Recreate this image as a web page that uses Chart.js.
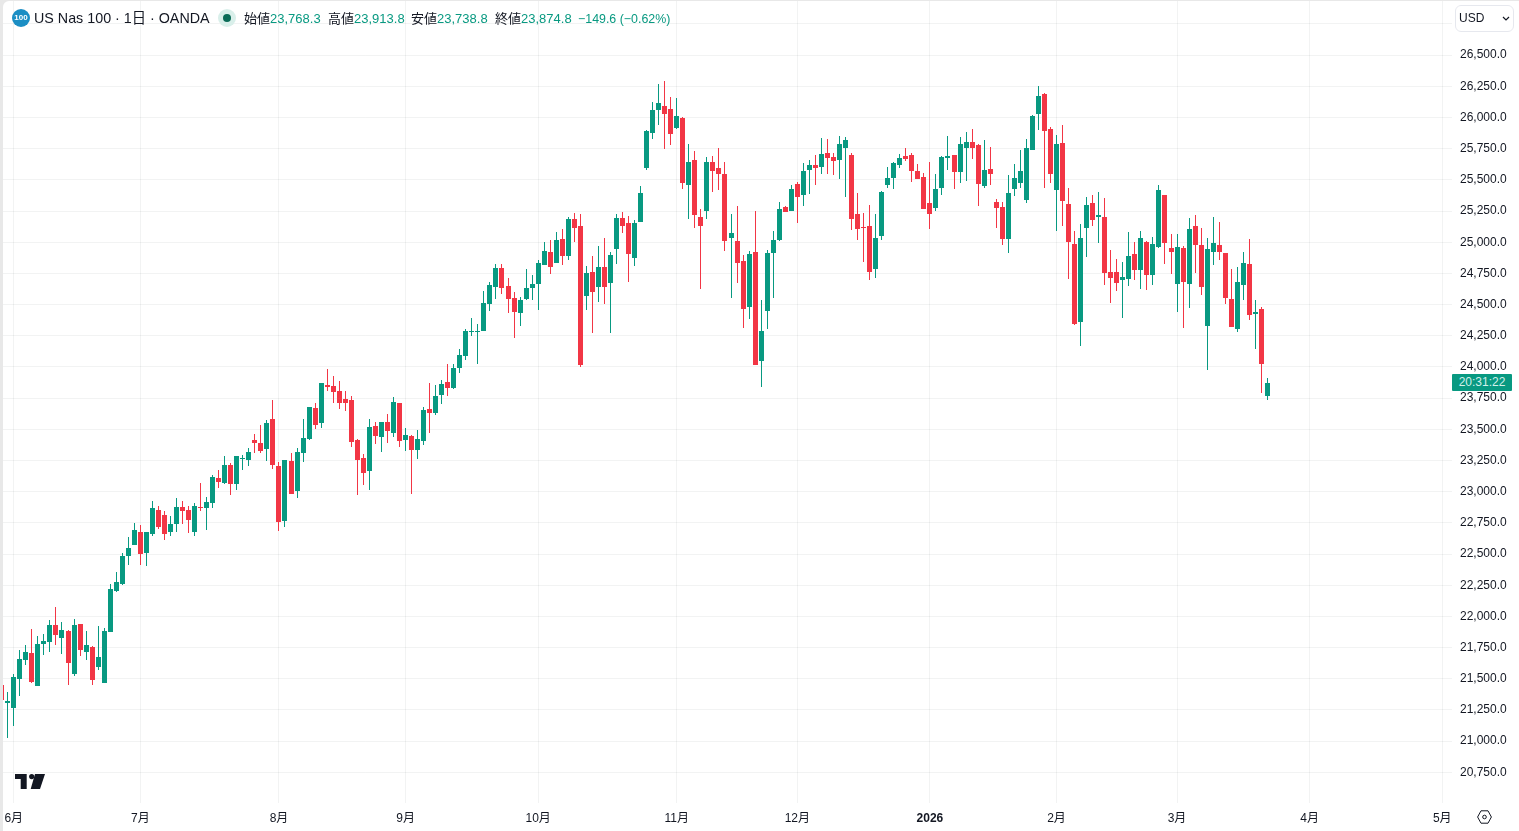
<!DOCTYPE html>
<html lang="ja"><head><meta charset="utf-8"><title>US Nas 100</title>
<script src="https://cdn.jsdelivr.net/npm/chart.js@4"></script>
<style>
html,body{margin:0;padding:0;width:1519px;height:831px;overflow:hidden;background:#e8e8e8;font-family:"Liberation Sans","Noto Sans CJK JP",sans-serif;color:#131722}
#panel{position:absolute;left:3px;top:1px;width:1516px;height:830px;background:#fff;border-top-left-radius:6px}
#c{position:absolute;left:0;top:0}
.t{position:absolute;white-space:nowrap;font-size:13px;line-height:16px}
.g{color:#089981}
#ticon{position:absolute;left:12px;top:9px;width:18px;height:18px;border-radius:50%;background:#1b8ec4;color:#fff;font-size:8px;font-weight:bold;line-height:18px;text-align:center}
#halo{position:absolute;left:218px;top:9px;width:18px;height:18px;border-radius:50%;background:#d9efea}
#dot{position:absolute;left:223px;top:14px;width:8px;height:8px;border-radius:50%;background:#0a6b57}
#tag{position:absolute;left:1452px;top:374px;width:60px;height:17px;background:#089981;color:#d3f0ea;font-size:12px;line-height:17px;text-align:center;border-radius:1px}
#usd{position:absolute;left:1455px;top:5px;width:57px;height:25px;border:1px solid #e6e8ee;border-radius:6px;background:#fff;font-size:12px;line-height:24px;box-sizing:content-box}
#usd span{position:absolute;left:3px}
svg{position:absolute;overflow:visible}
</style></head><body>
<div id="panel"></div>
<canvas id="c" width="1519" height="831"></canvas>
<div id="ticon">100</div>
<div class="t" style="left:34px;top:10px;font-size:14.3px">US Nas 100 · 1日 · OANDA</div>
<div id="halo"></div><div id="dot"></div>
<div class="t" style="left:244px;top:11px">始値<span class="g">23,768.3</span></div>
<div class="t" style="left:328px;top:11px">高値<span class="g">23,913.8</span></div>
<div class="t" style="left:411px;top:11px">安値<span class="g">23,738.8</span></div>
<div class="t" style="left:495px;top:11px">終値<span class="g">23,874.8</span></div>
<div class="t g" style="left:578px;top:11px;font-size:12.4px">−149.6 (−0.62%)</div>
<div id="usd"><span>USD</span><svg style="left:46px;top:10px" width="8" height="5" viewBox="0 0 8 5"><path d="M1 1l3 3 3-3" fill="none" stroke="#131722" stroke-width="1.2"/></svg></div>
<div id="tag">20:31:22</div>
<svg style="left:15px;top:774px" width="30" height="15" viewBox="0 0 30 15"><path d="M0 0h11.7v15H5.7V5H0z" fill="#131722"/><circle cx="16.7" cy="2.6" r="2.6" fill="#131722"/><path d="M20 0h10l-5 15H15.7z" fill="#131722"/></svg>
<svg style="left:1477px;top:810px" width="15" height="14" viewBox="0 0 15 14"><path d="M4 .8h7l3.4 6.2L11 13.2H4L.6 7z" fill="none" stroke="#131722" stroke-width="1"/><circle cx="7.5" cy="7" r="1.8" fill="none" stroke="#131722" stroke-width="1"/></svg>
<script>
const monthTicks = [1,22,45,66,88,111,131,153,174,194,216,238];
const monthLabels = ["6月","7月","8月","9月","10月","11月","12月","2026","2月","3月","4月","5月"];
const opens = [
21450,21306,21266,21498,21651,21707,21442,21779,21795,21931,
21827,21883,21538,21939,21715,21755,21595,21466,21875,22204,
22260,22485,22573,22677,22509,22661,22853,22813,22677,22741,
22878,22853,22677,22878,22870,22909,23110,23070,23214,23062,
23262,23254,23414,23390,23342,23583,23206,22765,23246,23006,
23310,23423,23671,23551,23856,23848,23807,23743,23735,23415,
23270,23166,23527,23439,23559,23471,23711,23415,23447,23334,
23406,23663,23631,23775,23880,23832,23992,24088,24281,24281,
24289,24505,24641,24794,24649,24553,24433,24545,24633,24665,
24818,24922,24834,25026,24890,25187,25131,24569,24762,24641,
24802,24673,24946,25195,25155,24874,25162,25595,25876,26060,
26092,26068,25916,25996,25459,25659,25202,25251,25643,25595,
25547,25034,25010,24850,24481,24922,24048,24449,24914,25018,
25283,25251,25467,25379,25579,25619,25603,25716,25684,25660,
25756,25700,25227,25122,25130,24785,25050,25459,25515,25619,
25692,25700,25571,25523,25315,25275,25435,25676,25700,25563,
25756,25804,25780,25451,25587,25323,25283,25026,25427,25475,
25339,25740,26028,26189,25908,25419,25795,25306,24986,24360,
25114,25314,25202,25202,24761,24761,24697,24705,24905,24777,
25002,24737,24962,25378,24953,24665,24953,24665,25130,24978,
24328,24921,24978,24913,24545,24304,24657,24825,24424,24464,23768.3];
const highs = [
21470,21394,21539,21731,21771,21899,21843,21859,21971,22076,
21955,21891,21979,21939,21883,21763,21923,21907,22260,22356,
22509,22637,22749,22733,22677,22926,22886,22845,22805,22950,
22926,22886,22910,23070,22958,23134,23174,23286,23230,23286,
23294,23350,23463,23535,23575,23735,23238,23254,23310,23350,
23583,23679,23711,23872,23984,23928,23888,23807,23767,23423,
23302,23583,23559,23559,23623,23759,23711,23511,23455,23495,
23679,23872,23856,23896,24024,24024,24144,24305,24393,24345,
24609,24682,24826,24826,24714,24601,24561,24786,24738,24858,
25002,25018,25082,25106,25203,25235,25227,24810,24890,24970,
25034,24922,25227,25243,25211,25179,25451,25900,26125,26269,
26293,26165,26157,26004,25788,25732,25267,25684,25692,25756,
25643,25226,25291,24898,24930,25251,24537,24938,25090,25323,
25291,25459,25483,25635,25659,25700,25836,25828,25716,25852,
25844,25716,25395,25235,25299,25227,25411,25603,25644,25708,
25756,25716,25627,25555,25644,25547,25692,25852,25700,25844,
25884,25908,25788,25820,25764,25347,25323,25539,25627,25740,
25828,26020,26253,26197,25924,25860,25940,25435,25090,25146,
25362,25378,25403,25354,24937,24865,24841,25082,25002,25090,
25010,25042,25459,25378,25066,25066,24970,25194,25218,25114,
25034,25202,25162,24913,24785,24801,24921,25026,24537,24480,23913.8];
const lows = [
21300,21028,21122,21362,21611,21470,21442,21691,21715,21771,
21699,21450,21522,21683,21651,21450,21571,21466,21875,22196,
22252,22412,22573,22412,22404,22645,22701,22613,22645,22677,
22741,22669,22645,22845,22693,22869,23030,23062,22974,23014,
23174,23206,23310,23310,23246,23182,22685,22717,22982,22950,
23238,23415,23503,23511,23807,23711,23663,23647,23358,22974,
23054,23014,23382,23318,23390,23439,23358,23326,22982,23262,
23374,23471,23615,23703,23767,23824,23952,24056,24249,24024,
24289,24449,24545,24585,24433,24233,24329,24537,24537,24457,
24818,24746,24834,24818,24858,25002,24000,24457,24273,24521,
24505,24273,24826,25074,24682,24810,25162,25579,25828,25940,
25748,25780,25908,25427,25186,25114,24625,25186,25403,25419,
24930,24553,24673,24312,24385,24016,23839,24304,24553,25010,
25243,25251,25154,25291,25387,25459,25547,25547,25539,25507,
25363,25098,25018,24842,24697,24713,25018,25435,25427,25595,
25652,25483,25507,25267,25106,25251,25379,25579,25427,25475,
25491,25668,25291,25435,25459,25114,24978,24914,25371,25435,
25315,25740,25900,25435,25475,25090,25130,24705,24336,24168,
24881,25130,24994,24657,24513,24609,24392,24649,24697,24625,
24617,24657,24954,24825,24745,24440,24312,24472,24753,24577,
23975,24817,24857,24504,24320,24280,24537,24376,24144,23791,23738.8];
const closes = [
21330,21322,21514,21659,21715,21474,21779,21803,21931,21851,
21891,21627,21931,21731,21771,21490,21675,21883,22220,22276,
22485,22549,22693,22501,22677,22870,22717,22661,22741,22878,
22845,22773,22886,22869,22918,23118,23078,23214,23062,23286,
23270,23318,23390,23326,23551,23214,22757,23254,22982,23318,
23431,23679,23535,23872,23840,23800,23711,23711,23398,23254,
23150,23519,23447,23559,23487,23719,23406,23455,23334,23423,
23655,23631,23767,23864,23832,23992,24096,24289,24289,24289,
24513,24657,24794,24633,24545,24441,24537,24633,24665,24834,
24930,24802,25018,24890,25187,25114,24016,24754,24601,24802,
24641,24898,25195,25131,24906,25155,25395,25892,26060,26116,
26028,25868,26012,25475,25643,25218,25130,25643,25571,25547,
25010,25074,24834,24465,24906,24016,24288,24914,25018,25267,
25243,25427,25363,25571,25619,25595,25708,25676,25652,25788,
25820,25186,25106,25114,24762,25034,25403,25515,25635,25676,
25668,25571,25507,25267,25227,25427,25684,25692,25563,25788,
25804,25756,25467,25579,25547,25275,25026,25395,25515,25571,
25756,26012,26173,25892,25547,25788,25330,25002,24344,25034,
25298,25178,25218,24753,24713,24673,24721,24889,24777,25034,
24737,24986,25419,24994,24921,24961,24681,25106,24978,24641,
24946,24994,24921,24553,24320,24681,24833,24416,24440,24024,23874.8];

const UP = '#089981', DOWN = '#f23645';
const colorOf = i => closes[i] >= opens[i] ? UP : DOWN;
const FONT = '"Liberation Sans","Noto Sans CJK JP",sans-serif';
const snap = {
  id: 'snap',
  beforeDatasetsDraw(chart) {
    chart.getSortedVisibleDatasetMetas().forEach(m => m.data.forEach(el => {
      el.x = Math.floor(el.x) + 0.5;
      el.y = Math.round(el.y);
      el.base = Math.round(el.base);
      if (el.y === el.base) el.base += 1;
    }));
  }
};
new Chart(document.getElementById('c'), {
  type: 'bar',
  plugins: [snap],
  data: { datasets: [
    { label: 'wick', barThickness: 1, inflateAmount: 0, borderWidth: 0,
      data: opens.map((_, i) => ({ x: i - 1, y: [lows[i], highs[i]] })),
      backgroundColor: opens.map((_, i) => colorOf(i)) },
    { label: 'body', barThickness: 5, inflateAmount: 0, borderWidth: 0,
      data: opens.map((_, i) => ({ x: i - 1, y: [opens[i], closes[i]] })),
      backgroundColor: opens.map((_, i) => colorOf(i)) }
  ]},
  options: {
    responsive: false, animation: false, devicePixelRatio: 1,
    layout: { padding: { left: 3, top: 1, right: 0, bottom: 0 } },
    plugins: { legend: { display: false }, tooltip: { enabled: false } },
    datasets: { bar: { grouped: false } },
    scales: {
      x: {
        type: 'linear', offset: false, min: -0.786, max: 239.62,
        afterBuildTicks: s => { s.ticks = monthTicks.map(v => ({ value: v })); },
        afterFit: s => { s.height = 28; s.paddingLeft = 0; s.paddingRight = 0; },
        grid: { offset: false, color: 'rgba(42,46,57,0.06)', drawTicks: false },
        border: { display: false },
        ticks: { autoSkip: false, maxRotation: 0, padding: 8, color: '#131722',
          font: c => ({ family: FONT, size: 12, weight: c.tick && c.tick.value === 153 ? 'bold' : 'normal' }),
          callback: v => monthLabels[monthTicks.indexOf(v)] }
      },
      y: {
        type: 'linear', position: 'right', min: 20504, max: 26934.4,
        afterFit: s => { s.width = 67; s.paddingTop = 0; s.paddingBottom = 0; },
        grid: { color: 'rgba(42,46,57,0.06)', drawTicks: false },
        border: { display: false },
        ticks: { stepSize: 250, includeBounds: false, padding: 8, color: '#131722',
          font: { family: FONT, size: 12 },
          callback: v => v >= 26750 ? '' : v.toLocaleString('en-US', { minimumFractionDigits: 1, maximumFractionDigits: 1 }) }
      }
    }
  }
});
</script>
</body></html>
